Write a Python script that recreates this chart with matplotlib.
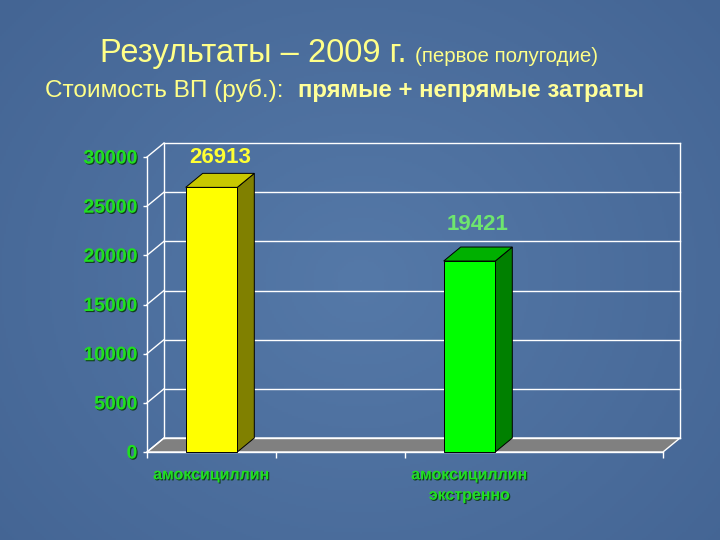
import numpy as np
import matplotlib.pyplot as plt
import matplotlib.patheffects as pe
from matplotlib.patches import Polygon, Rectangle

plt.rcParams['font.family'] = ['Liberation Sans', 'DejaVu Sans']

# данные
categories = ['амоксициллин', 'амоксициллин\nэкстренно']
values = [26913, 19421]
cat_pos = [0.5, 2.5]
y_ticks = [0, 5000, 10000, 15000, 20000, 25000, 30000]
x_ticks = [0, 1, 2, 4]

front_colors = ['#ffff00', '#00ff00']
side_colors = ['#808000', '#008000']
top_colors = ['#c8c800', '#00b000']
label_colors = ['#ffff33', '#6ee66e']
label_gap_px = [5.5, 12.5]

W, H = 720, 540
fig = plt.figure(figsize=(7.2, 5.4), dpi=100)

# фон слайда - синий градиент
bg = fig.add_axes([0, 0, 1, 1])
yy, xx = np.mgrid[0:H:2, 0:W:2]
r = np.sqrt(((xx - 360) / 480.0) ** 2 + ((yy - 280) / 420.0) ** 2)
r = np.clip(r, 0, 1)[..., None]
c_mid = np.array([0x55, 0x79, 0xa8]) / 255.0
c_edge = np.array([0x44, 0x65, 0x94]) / 255.0
img = c_mid * (1 - r) + c_edge * r
bg.imshow(img, extent=[0, W, H, 0], aspect='auto')
bg.set_xlim(0, W)
bg.set_ylim(H, 0)
bg.axis('off')

# заголовок
yellow = '#ffff88'
fig.text(100 / W, 1 - 62 / H, 'Результаты – 2009 г.', fontsize=23.5, color=yellow,
         va='baseline', ha='left')
fig.text(415 / W, 1 - 62 / H, '(первое полугодие)', fontsize=14.8, color=yellow,
         va='baseline', ha='left')
fig.text(45 / W, 1 - 97 / H, 'Стоимость ВП (руб.):', fontsize=17.6, color=yellow,
         va='baseline', ha='left')
fig.text(298 / W, 1 - 97 / H, 'прямые + непрямые затраты', fontsize=17.3, color='#ffff99',
         fontweight='bold', va='baseline', ha='left')

# область диаграммы (передняя плоскость)
x0, x1, y0, y1 = 147, 663, 452, 157
ax = fig.add_axes([x0 / W, 1 - y0 / H, (x1 - x0) / W, (y0 - y1) / H])
ax.set_xlim(0, 4)
ax.set_ylim(0, 30000)
ax.patch.set_alpha(0)
for s in ax.spines.values():
    s.set_visible(False)

DX = 4 * 17 / (x1 - x0)
DY = 30000 * 14 / (y0 - y1)
wc = 'white'

# пол
ax.add_patch(Polygon([(0, 0), (4, 0), (4 + DX, DY), (DX, DY)], closed=True,
                     facecolor='#808080', edgecolor=wc, lw=1, clip_on=False, zorder=1))

# задняя стенка и боковая стенка
for t in y_ticks:
    ax.plot([DX, 4 + DX], [t + DY, t + DY], color=wc, lw=1, clip_on=False, zorder=1)
    ax.plot([0, DX], [t, t + DY], color=wc, lw=1, clip_on=False, zorder=1)
ax.plot([DX, DX], [DY, 30000 + DY], color=wc, lw=1, clip_on=False, zorder=1)
ax.plot([4 + DX, 4 + DX], [DY, 30000 + DY], color=wc, lw=1, clip_on=False, zorder=1)
ax.plot([0, 0], [0, 30000], color=wc, lw=1, clip_on=False, zorder=1)
ax.plot([0, 4], [0, 0], color=wc, lw=1, clip_on=False, zorder=1)

# столбцы
hw = 0.2
for c, v, fc, sc, tc, lc, gap in zip(cat_pos, values, front_colors, side_colors,
                                     top_colors, label_colors, label_gap_px):
    ax.add_patch(Polygon([(c + hw, 0), (c + hw + DX, DY), (c + hw + DX, v + DY), (c + hw, v)],
                         closed=True, facecolor=sc, edgecolor='black', lw=0.7,
                         clip_on=False, zorder=3))
    ax.add_patch(Polygon([(c - hw, v), (c + hw, v), (c + hw + DX, v + DY), (c - hw + DX, v + DY)],
                         closed=True, facecolor=tc, edgecolor='black', lw=0.7,
                         clip_on=False, zorder=3))
    ax.add_patch(Rectangle((c - hw, 0), 2 * hw, v, facecolor=fc, edgecolor='black', lw=0.7,
                           clip_on=False, zorder=4))
    ax.annotate(str(v), (c + DX / 2, v + DY), xytext=(0, gap * 0.72),
                textcoords='offset points', ha='center', va='bottom',
                fontsize=16, fontweight='bold', color=lc, zorder=5)

# оси
shadow = [pe.withSimplePatchShadow(offset=(0.8, -0.8), shadow_rgbFace='#0a3a10', alpha=0.9)]
ax.set_yticks(y_ticks)
ax.set_yticklabels([str(t) for t in y_ticks])
ax.tick_params(axis='y', length=3, width=1, color=wc, pad=4, labelsize=14, labelcolor='#20e020')
for lab in ax.get_yticklabels():
    lab.set_fontweight('bold')
    lab.set_path_effects(shadow)

ax.set_xticks(x_ticks)
ax.set_xticklabels([''] * len(x_ticks))
ax.set_xticks(cat_pos, minor=True)
ax.set_xticklabels(categories, minor=True)
ax.tick_params(axis='x', which='major', length=4, width=1, color=wc, direction='out')
ax.tick_params(axis='x', which='minor', length=0, pad=11, labelsize=11.5, labelcolor='#20e020')
for lab in ax.get_xticklabels(minor=True):
    lab.set_fontweight('bold')
    lab.set_linespacing(1.45)
    lab.set_path_effects(shadow)

fig.savefig('out.png', dpi=100)
